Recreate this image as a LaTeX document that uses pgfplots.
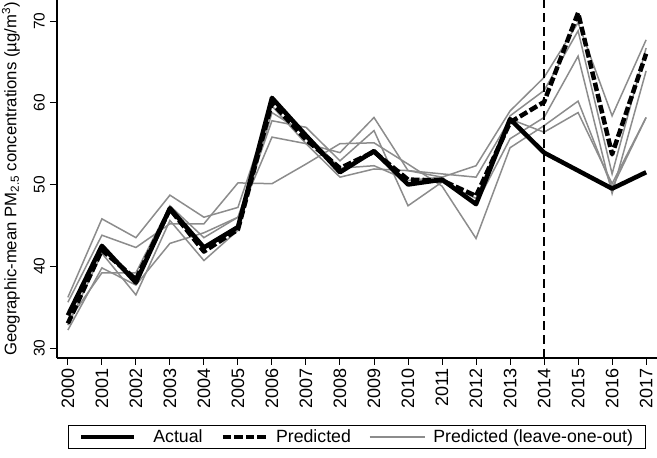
\documentclass[border=0pt]{standalone}
\usepackage{fontspec}
\setmainfont{Liberation Sans}
\usepackage{pgfplots}
\pgfplotsset{compat=1.18}
\pgfplotsset{
  legA/.style={legend image code/.code={\draw[##1] (0pt,0pt) -- (53pt,0pt); \path (62pt,0pt);}},
  legB/.style={legend image code/.code={\draw[##1] (0pt,0pt) -- (43pt,0pt);}},
  legC/.style={legend image code/.code={\draw[##1] (0pt,0pt) -- (55pt,0pt);}},
}
\begin{document}
\begin{tikzpicture}
\begin{axis}[
  scale only axis, width=600pt, height=358pt,
  xmin=1999.68, xmax=2017.32, ymin=28.78, ymax=72.57,
  axis x line*=bottom, axis y line*=left,
  axis line style={black, line width=1.1pt},
  tick style={black, line width=1pt},
  tick align=outside, major tick length=7pt,
  xtick={2000,2001,...,2017}, ytick={30,40,50,60,70},
  /pgf/number format/.cd, 1000 sep={}, assume math mode=true, /pgfplots/.cd,
  x tick label style={font=\fontsize{18}{20}\selectfont, rotate=90, anchor=east, inner sep=0pt},
  y tick label style={font=\fontsize{15.5}{17}\selectfont, rotate=90, anchor=south, inner sep=0pt},
  xticklabel shift=3pt, yticklabel shift=5pt,
  ylabel={Geographic-mean PM\textsubscript{2.5} concentrations (µg/m\textsuperscript{3})},
  ylabel style={font=\fontsize{16.7}{19}\selectfont, inner sep=0pt,
    at={([xshift=-37pt]axis description cs:0,0.5)}, anchor=south},
  legend columns=3,
  legend style={at={(0.5,-0.187)}, anchor=north, draw=black, line width=1.1pt,
    font=\fontsize{17.7}{20}\selectfont, inner xsep=10pt, inner ysep=2.5pt,
    cells={inner xsep=0pt},
    /tikz/every odd column/.append style={column sep=6pt},
    /tikz/every even column/.append style={column sep=16pt}},
  legend cell align=left,
]
\addlegendimage{black, line width=4.5pt, legA}
\addlegendimage{black, line width=4.5pt, dash pattern=on 8.5pt off 3pt, legB}
\addlegendimage{gray!90, line width=1.5pt, legC}
\legend{Actual, Predicted, Predicted (leave-one-out)}

% leave-one-out predictions
\addplot[gray!90, line width=1.5pt, forget plot] coordinates {
(2000,36.2)(2001,45.8)(2002,43.5)(2003,48.7)(2004,46.0)(2005,47.2)(2006,59.6)(2007,55.0)(2008,53.9)
(2009,58.2)(2010,51.7)(2011,50.9)(2012,52.3)(2013,59.0)(2014,63.1)(2015,69.8)(2016,58.4)(2017,67.7)};
\addplot[gray!90, line width=1.5pt, forget plot] coordinates {
(2000,35.6)(2001,43.8)(2002,42.3)(2003,45.2)(2004,45.2)(2005,50.2)(2006,50.1)(2007,52.5)(2008,55.0)
(2009,55.1)(2010,52.5)(2011,49.8)(2012,43.4)(2013,54.5)(2014,57.2)(2015,60.2)(2016,49.6)(2017,58.2)};
\addplot[gray!90, line width=1.5pt, forget plot] coordinates {
(2000,33.3)(2001,39.2)(2002,39.2)(2003,47.4)(2004,43.5)(2005,46.0)(2006,57.8)(2007,57.0)(2008,52.9)
(2009,56.6)(2010,47.4)(2011,50.3)(2012,48.3)(2013,58.4)(2014,61.5)(2015,68.8)(2016,51.3)(2017,66.7)};
\addplot[gray!90, line width=1.5pt, forget plot] coordinates {
(2000,32.8)(2001,41.6)(2002,36.5)(2003,45.6)(2004,40.7)(2005,44.4)(2006,58.8)(2007,56.2)(2008,52.0)
(2009,52.3)(2010,50.5)(2011,50.9)(2012,47.6)(2013,55.6)(2014,58.2)(2015,65.7)(2016,48.9)(2017,63.9)};
\addplot[gray!90, line width=1.5pt, forget plot] coordinates {
(2000,32.2)(2001,39.8)(2002,37.7)(2003,42.8)(2004,44.1)(2005,46.0)(2006,55.8)(2007,55.0)(2008,50.9)
(2009,51.9)(2010,51.7)(2011,51.3)(2012,50.9)(2013,58.0)(2014,56.4)(2015,58.8)(2016,50.1)(2017,58.2)};

% predicted
\addplot[black, line width=4.5pt, dash pattern=on 8.5pt off 3pt, line join=round, forget plot] coordinates {
(2000,33.0)(2001,42.0)(2002,38.4)(2003,47.0)(2004,41.8)(2005,44.5)(2006,60.0)(2007,55.5)(2008,52.0)
(2009,54.0)(2010,50.6)(2011,50.5)(2012,48.6)(2013,57.6)(2014,60.1)(2015,71.0)(2016,53.7)(2017,66.0)};

% actual
\addplot[black, line width=4.5pt, line join=round, forget plot] coordinates {
(2000,34.0)(2001,42.5)(2002,38.0)(2003,47.1)(2004,42.3)(2005,44.8)(2006,60.6)(2007,56.0)(2008,51.5)
(2009,54.1)(2010,50.0)(2011,50.6)(2012,47.6)(2013,58.0)(2014,53.9)(2015,51.7)(2016,49.5)(2017,51.5)};

% 2014 reference line
\addplot[black, line width=1.3pt, dash pattern=on 9pt off 5pt, forget plot] coordinates {(2014,28.78)(2014,72.57)};

\coordinate (bl) at (axis description cs:0,0);
\end{axis}
\pgfresetboundingbox
\path[use as bounding box] ([xshift=-57pt,yshift=-100pt]bl) rectangle ([xshift=600pt,yshift=358pt]bl);
\end{tikzpicture}
\end{document}
